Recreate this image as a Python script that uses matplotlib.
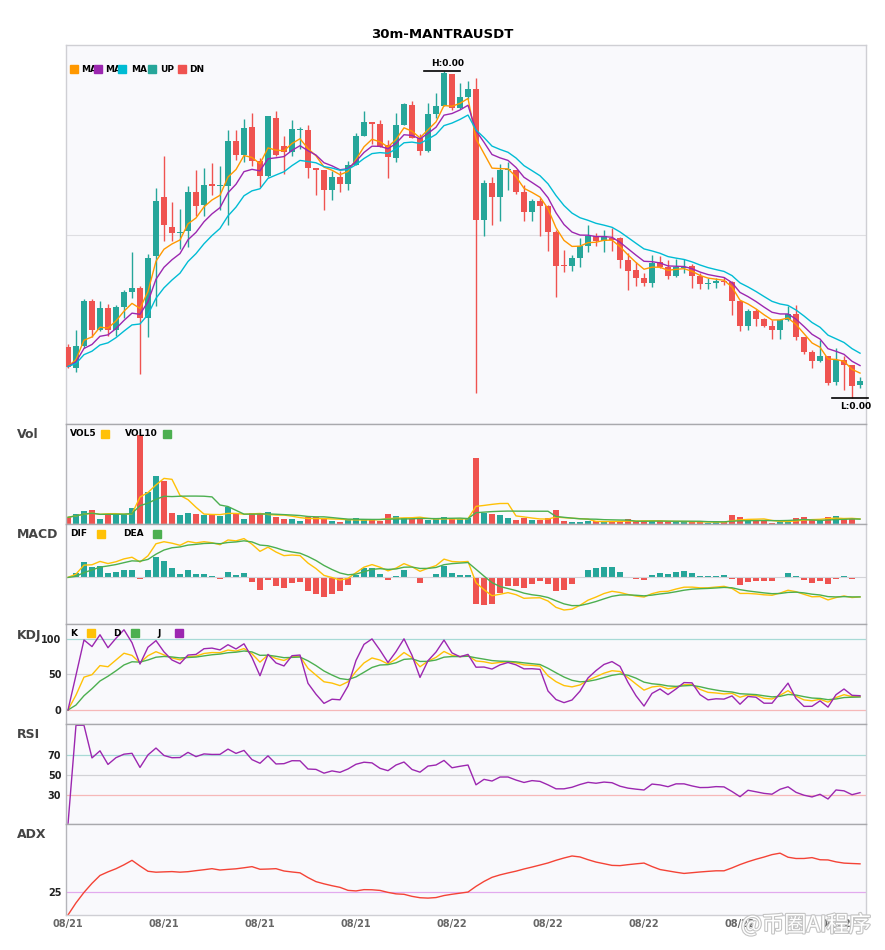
import numpy as np
import pandas as pd
import matplotlib
matplotlib.use("Agg")
import matplotlib.pyplot as plt
from matplotlib.patches import Rectangle
import matplotlib.patheffects as pe

# Data (30m candles, price in relative units)
title = "30m-MANTRAUSDT"
tick_pos = [0, 12, 24, 36, 48, 60, 72, 84, 96]
tick_labels = ["08/21", "08/21", "08/21", "08/21", "08/22", "08/22", "08/22", "08/22", "08/22"]

opens = [82.3, 62.3, 83.3, 128.3, 99.3, 122, 100, 123, 138, 142,
         111.3, 173.3, 233, 203, 196.7, 199, 238, 224.3, 246, 243.3,
         243.3, 289, 275, 303, 268.3, 253.3, 312, 284, 277.3, 300,
         300, 261.3, 259.3, 239.3, 253, 246, 264.7, 294, 308, 305.3,
         285, 271.7, 305, 324, 291.3, 278.3, 316, 323.3, 355.3, 321.7,
         332, 340, 210, 246.7, 232.3, 260, 260, 237.7, 218, 229,
         223.3, 197.3, 164.3, 163.3, 171.3, 184, 194, 188.3, 191.7, 191.3,
         170, 159.3, 152, 147, 167.3, 162.3, 153.3, 162, 164, 153.3,
         146, 146.7, 148.3, 147.3, 129, 103.3, 118.3, 111, 103.3, 99.3,
         110, 115.7, 92.3, 77.7, 68.3, 74, 48.3, 69.3, 65, 45]
highs = [86, 99.3, 131, 131, 129, 126, 124.7, 139.3, 177.3, 144,
         176, 242, 274, 227.7, 220.7, 244, 260, 261.3, 266.7, 264,
         299.3, 299.3, 311, 316.3, 271.7, 314, 318.3, 293.3, 309.3, 302.3,
         304.7, 261.3, 259.3, 258.3, 258.3, 268.3, 296.7, 318.3, 308, 310,
         290, 316.7, 326, 328, 295.7, 326, 336.7, 358.3, 355.3, 346.7,
         348.3, 351, 250, 252.3, 266, 268, 260, 244.3, 230.7, 231.7,
         225, 199.3, 180, 175, 192, 205, 196.7, 200, 201.3, 192.7,
         176.7, 168, 156.7, 175, 174, 170, 170.7, 170.7, 165.7, 156.7,
         151.7, 151.7, 152.7, 148.3, 129, 120.7, 120.7, 111.7, 109.3, 110.7,
         124, 125, 92.3, 79.3, 90, 74, 81.7, 73.3, 65, 52.7]
lows = [62, 58.3, 82, 92.7, 98.3, 94, 94, 111.3, 131.7, 56,
        92.3, 123.3, 188.3, 188.3, 181, 182.7, 213.3, 214, 234.3, 220,
        204.3, 269.3, 268, 263.3, 242.3, 253, 274, 255.7, 273.3, 281,
        251.7, 234.3, 219.3, 230, 237.3, 239.3, 264.7, 294, 286, 282.7,
        251.7, 267.3, 305, 291.7, 275, 277.3, 311.3, 323.3, 320, 320.7,
        330, 37.3, 193.3, 205, 209, 240, 236, 209, 208.3, 193.3,
        179, 132.3, 157.3, 158.3, 162.3, 177.3, 183.3, 177.3, 178.3, 161.7,
        140, 144, 143.3, 142.7, 161.7, 150.7, 152.7, 156.7, 141.7, 140.7,
        140.7, 141.7, 145, 115, 98.3, 99.3, 103.3, 102.7, 91, 91,
        108.3, 90, 75.7, 61.7, 67.3, 45, 45, 40, 31.7, 41.7]
closes = [63.3, 84, 128.3, 99.3, 122, 100, 123, 138, 142, 111.3,
          172, 229, 204.3, 196.3, 197.7, 238, 223.3, 245, 243.3, 243.7,
          289, 275, 302, 268.3, 253.3, 313.3, 275, 277.3, 300.7, 300.3,
          261.3, 259.3, 240, 253, 246, 264.7, 294, 308, 305.3, 282.7,
          272.3, 305, 325, 291.7, 278.3, 316, 323.3, 356.7, 321.7, 332,
          340.7, 210, 246.7, 232.3, 260, 260.3, 237.3, 218, 229, 223.3,
          197.3, 164, 164, 171.3, 184, 194, 188.3, 193.3, 189.7, 170,
          158.3, 152, 147, 166.7, 162.3, 153.3, 162.3, 162.3, 153.3, 146,
          146.3, 148.3, 147.3, 129, 103.3, 118.3, 111, 103.3, 99.3, 110,
          115.7, 92.3, 77.7, 68.3, 74, 47.3, 69.3, 65, 44.3, 49.3]
volumes = [7, 10, 13.3, 14.3, 5.3, 10, 10.3, 10.7, 16, 89.3,
           32.7, 48.3, 43.3, 11.3, 9, 11.3, 10.3, 9.3, 9.3, 8.3,
           17.3, 10.3, 5.3, 11, 10.3, 12.3, 7.3, 5.3, 5.3, 3.3,
           7.7, 7, 5.3, 3.3, 2.3, 5, 6.3, 4.3, 4.3, 3.3,
           10.3, 8.3, 6, 5, 6, 4.3, 5, 7, 5, 5,
           6, 66.7, 11.7, 10.3, 9.3, 6.3, 4.3, 6.7, 4.7, 4.7,
           6, 14.3, 3.3, 2.3, 2.3, 3.7, 3, 2, 3, 3,
           5.3, 3, 3, 3.3, 3, 3, 2.3, 2.3, 2.7, 2.7,
           1.3, 2.3, 2, 9.3, 7.3, 3.7, 3.3, 3.3, 1.7, 2.3,
           3.3, 6.3, 7.3, 4.3, 3.7, 7.3, 8.3, 5.3, 5.3, 0.7]

UP = "#26a69a"
DN = "#ef5350"
C_MA1, C_MA2, C_MA3 = "#ff9800", "#9c27b0", "#00bcd4"
YEL, GRN, PUR = "#ffc107", "#4caf50", "#9c27b0"
BG = "#f9f9fc"

n = len(closes)
x = np.arange(n)
o = pd.Series(opens)
h = pd.Series(highs)
l = pd.Series(lows)
c = pd.Series(closes)
v = pd.Series(volumes)
is_up = (c >= o).values
colors = np.where(is_up, UP, DN)

# indicators
ma1 = c.ewm(span=5, adjust=False).mean()
ma2 = c.ewm(span=8, adjust=False).mean()
ma3 = c.ewm(span=13, adjust=False).mean()

vol5 = v.rolling(5, min_periods=1).mean()
vol10 = v.rolling(10, min_periods=1).mean()

# fast MACD (6, 13, 5)
dif = c.ewm(span=6, adjust=False).mean() - c.ewm(span=13, adjust=False).mean()
dea = dif.ewm(span=5, adjust=False).mean()
hist = 2 * (dif - dea)

llv = l.rolling(9, min_periods=1).min()
hhv = h.rolling(9, min_periods=1).max()
rsv = ((c - llv) / (hhv - llv) * 100).values
k = np.zeros(n)
d = np.zeros(n)
for i in range(1, n):
    k[i] = 2 / 3 * k[i - 1] + rsv[i] / 3
    d[i] = 2 / 3 * d[i - 1] + k[i] / 3
j = 3 * k - 2 * d

delta = c.diff()
gain = delta.clip(lower=0)
loss = -delta.clip(upper=0)
ag = gain.ewm(alpha=1 / 14).mean()
al = loss.ewm(alpha=1 / 14).mean()
rsi = (100 * ag / (ag + al)).fillna(0)

prev_c = c.shift()
tr = pd.concat([h - l, (h - prev_c).abs(), (l - prev_c).abs()], axis=1).max(axis=1)
upm = h.diff()
dnm = -l.diff()
pdm = pd.Series(np.where((upm > dnm) & (upm > 0), upm, 0.0))
mdm = pd.Series(np.where((dnm > upm) & (dnm > 0), dnm, 0.0))
atr = tr.ewm(span=14, adjust=False).mean()
pdi = 100 * pdm.ewm(span=14, adjust=False).mean() / atr
mdi = 100 * mdm.ewm(span=14, adjust=False).mean() / atr
dx = (100 * (pdi - mdi).abs() / (pdi + mdi)).fillna(0)
adx = dx.ewm(span=14, adjust=False).mean()

# layout in pixels
W, H = 885, 950
fig = plt.figure(figsize=(W / 100, H / 100), dpi=100)
L_PX, R_PX = 65.5, 865.7


def add_panel(top, bottom):
    ax = fig.add_axes([L_PX / W, 1 - bottom / H, (R_PX - L_PX) / W, (bottom - top) / H])
    ax.set_facecolor(BG)
    ax.set_xlim(-0.31, 99.71)
    for s in ax.spines.values():
        s.set_color("#cfcfd4")
        s.set_linewidth(1)
    ax.tick_params(length=0, labelsize=7)
    ax.set_xticks([])
    ax.set_yticks([])
    return ax


ax_main = add_panel(45, 424.3)
ax_vol = add_panel(424.3, 524.3)
ax_macd = add_panel(524.3, 624.3)
ax_kdj = add_panel(624.3, 724.3)
ax_rsi = add_panel(724.3, 824.3)
ax_adx = add_panel(824.3, 915)
for ax in [ax_vol, ax_macd, ax_kdj, ax_rsi, ax_adx]:
    ax.spines["top"].set_color("#a9a9ad")
    ax.spines["left"].set_color("#b5b5ba")


def ftxt(px, py, s, **kw):
    fig.text(px / W, 1 - py / H, s, **kw)


def fsq(px, py, color, size=8):
    fig.add_artist(Rectangle((px / W, 1 - (py + size / 2) / H), size / W, size / H,
                             transform=fig.transFigure, color=color, zorder=6))


# main candles
lo, hi = min(lows), max(highs)
pad = 0.08 * (hi - lo)
ax_main.set_ylim(lo - pad, hi + pad)
ax_main.set_yticks([(lo + hi) / 2])
ax_main.set_yticklabels([])
ax_main.grid(axis="y", color="#dedee2", lw=0.8)
ax_main.set_axisbelow(True)
ax_main.vlines(x, l, h, colors=colors, lw=1.0, zorder=2)
body_lo = np.minimum(o, c)
body_h = np.maximum(np.abs(c - o), 0.9)
ax_main.bar(x, body_h, 0.78, bottom=body_lo, color=colors, zorder=3)
ax_main.plot(x, ma1, color=C_MA1, lw=1.0, zorder=4)
ax_main.plot(x, ma2, color=C_MA2, lw=1.0, zorder=4)
ax_main.plot(x, ma3, color=C_MA3, lw=1.0, zorder=4)

ih = int(np.argmax(highs))
il = int(np.argmin(lows))
ax_main.plot([ih - 2.5, ih + 2.0], [hi, hi], color="black", lw=1.2, clip_on=False, zorder=5)
ax_main.annotate("H:0.00", (ih + 0.5, hi), xytext=(0, 2), textcoords="offset points",
                 ha="center", va="bottom", fontsize=6.5, fontweight="bold")
ax_main.plot([il - 2.5, il + 2.0], [lo, lo], color="black", lw=1.2, clip_on=False, zorder=5)
ax_main.annotate("L:0.00", (il + 0.5, lo), xytext=(0, -3), textcoords="offset points",
                 ha="center", va="top", fontsize=6.5, fontweight="bold")

# main legend
leg_y = 69
for sx, tx, col, lab in [(70, 81, C_MA1, "MA"), (94, 105, C_MA2, "MA"), (118, 131, C_MA3, "MA"),
                         (148, 160, UP, "UP"), (178, 189, DN, "DN")]:
    ftxt(tx, leg_y, lab, fontsize=6.5, fontweight="bold", va="center", ha="left", zorder=5)
    fsq(sx, leg_y, col)

# volume
ax_vol.bar(x, v, 0.78, color=colors)
ax_vol.plot(x, vol5, color=YEL, lw=1.0)
ax_vol.plot(x, vol10, color=GRN, lw=1.0)
ax_vol.set_ylim(0, max(volumes) * 1.12)
ftxt(70, 433.7, "VOL5", fontsize=6.5, fontweight="bold", va="center")
fsq(101, 433.7, YEL)
ftxt(125, 433.7, "VOL10", fontsize=6.5, fontweight="bold", va="center")
fsq(163, 433.7, GRN)

# macd
ax_macd.axhline(0, color="#d4d4d8", lw=0.8)
ax_macd.bar(x, hist, 0.78, color=np.where(hist >= 0, UP, DN))
ax_macd.plot(x, dif, color=YEL, lw=1.0)
ax_macd.plot(x, dea, color=GRN, lw=1.0)
mlo = min(dif.min(), dea.min(), hist.min())
mhi = max(dif.max(), dea.max(), hist.max())
ax_macd.set_ylim(mlo - 0.2 * (mhi - mlo), mhi + 0.2 * (mhi - mlo))
ftxt(70, 533.7, "DIF", fontsize=6.5, fontweight="bold", va="center")
fsq(97, 533.7, YEL)
ftxt(123, 533.7, "DEA", fontsize=6.5, fontweight="bold", va="center")
fsq(153, 533.7, GRN)

# kdj
ax_kdj.set_ylim(-20, 120)
ax_kdj.axhline(100, color="#a8dad6", lw=0.9)
ax_kdj.axhline(50, color="#d2d2d6", lw=0.9)
ax_kdj.axhline(0, color="#f6b8b8", lw=0.9)
ax_kdj.plot(x, k, color=YEL, lw=1.0)
ax_kdj.plot(x, d, color=GRN, lw=1.0)
ax_kdj.plot(x, j, color=PUR, lw=1.0)
ax_kdj.set_yticks([0, 50, 100])
ftxt(70, 633.3, "K", fontsize=6.5, fontweight="bold", va="center")
fsq(87, 633.3, YEL)
ftxt(113, 633.3, "D", fontsize=6.5, fontweight="bold", va="center")
fsq(131, 633.3, GRN)
ftxt(157, 633.3, "J", fontsize=6.5, fontweight="bold", va="center")
fsq(175, 633.3, PUR)

# rsi
ax_rsi.set_ylim(0, 101)
ax_rsi.axhline(70, color="#a8dad6", lw=0.9)
ax_rsi.axhline(50, color="#d2d2d6", lw=0.9)
ax_rsi.axhline(30, color="#f6b8b8", lw=0.9)
ax_rsi.plot(x, rsi, color=PUR, lw=1.0)
ax_rsi.set_yticks([30, 50, 70])

# adx
ax_adx.set_ylim(0, 100)
ax_adx.axhline(25, color="#e2aaee", lw=0.9)
ax_adx.plot(x, adx, color="#f44336", lw=1.0)
ax_adx.set_yticks([25])
ax_adx.set_xticks(tick_pos)
ax_adx.set_xticklabels(tick_labels)

for ax in [ax_kdj, ax_rsi, ax_adx]:
    for t in ax.get_yticklabels():
        t.set_fontweight("bold")
        t.set_color("#222222")
    ax.tick_params(axis="y", pad=3)
for t in ax_adx.get_xticklabels():
    t.set_fontweight("bold")
    t.set_color("#666666")
ax_adx.tick_params(axis="x", pad=3)

# panel names
for name, py in [("Vol", 435), ("MACD", 535), ("KDJ", 635), ("RSI", 735), ("ADX", 835)]:
    ftxt(17, py, name, fontsize=9, fontweight="bold", color="#444444", va="center", ha="left")

ftxt(W / 2, 34, title, fontsize=9.5, fontweight="bold", ha="center", va="center")

# watermark
fig.text(806 / W, 1 - 925 / H, "@币圈AI程序", fontsize=16, ha="center", va="center",
         family=["Noto Sans CJK SC", "DejaVu Sans"], color="white", zorder=10,
         path_effects=[pe.withStroke(linewidth=1.6, foreground="#c4c4c4")])

fig.savefig("out.png", dpi=100, facecolor="white")
